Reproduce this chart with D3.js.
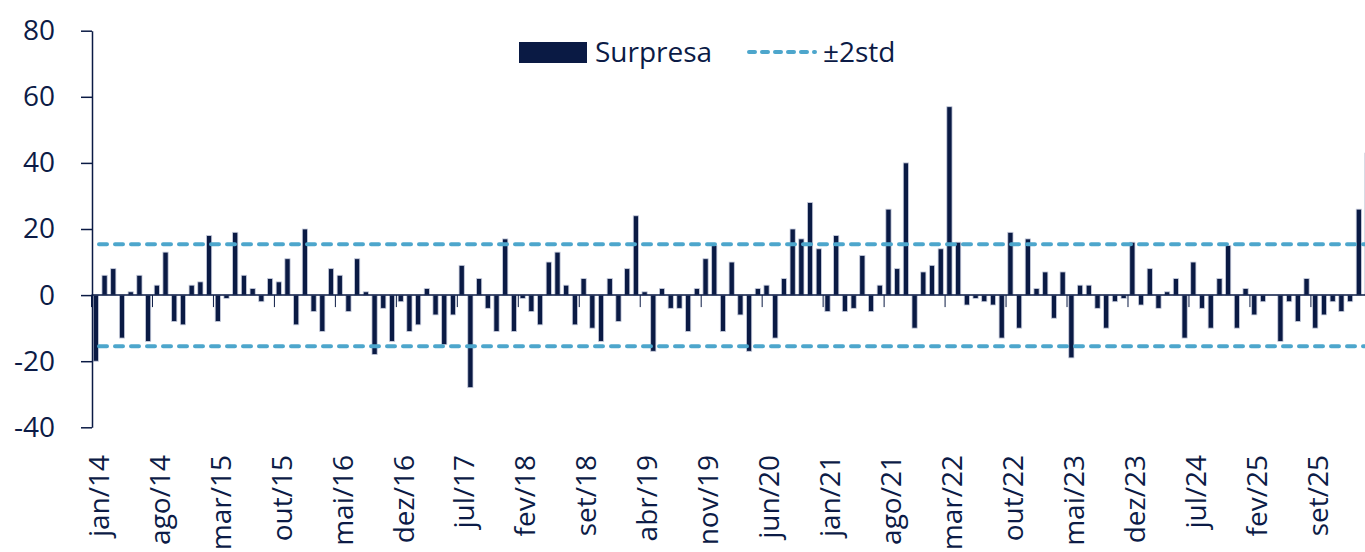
<!DOCTYPE html>
<meta charset="utf-8">
<script src="https://d3js.org/d3.v7.min.js"></script>
<style>
    body { margin: 0; background: #fff; }
    text { font-family: "Open Sans", "Noto Sans", sans-serif; fill: #0c1b46; }
</style>
<body>
<div id="my_dataviz"></div>
<script>
    // month names and years used to build the monthly categories (jan/14 ...)
    var monthNames = ["jan", "fev", "mar", "abr", "mai", "jun", "jul", "ago", "set", "out", "nov", "dez"];
    var firstYear = 2014;

    // surprise values, one per month starting jan/14
    var surpresa = [
        -20, 6, 8, -13, 1, 6, -14, 3, 13, -8, -9, 3,
        4, 18, -8, -1, 19, 6, 2, -2, 5, 4, 11, -9,
        20, -5, -11, 8, 6, -5, 11, 1, -18, -4, -14, -2,
        -11, -9, 2, -6, -15, -6, 9, -28, 5, -4, -11, 17,
        -11, -1, -5, -9, 10, 13, 3, -9, 5, -10, -14, 5,
        -8, 8, 24, 1, -17, 2, -4, -4, -11, 2, 11, 15,
        -11, 10, -6, -17, 2, 3, -13, 5, 20, 17, 28, 14,
        -5, 18, -5, -4, 12, -5, 3, 26, 8, 40, -10, 7,
        9, 14, 57, 16, -3, -1, -2, -3, -13, 19, -10, 17,
        2, 7, -7, 7, -19, 3, 3, -4, -10, -2, -1, 16,
        -3, 8, -4, 1, 5, -13, 10, -4, -10, 5, 15, -10,
        2, -6, -2, 0, -14, -2, -8, 5, -10, -6, -2, -5,
        -2, 26, 43
    ];

    // +/- 2 standard deviation band
    var stdUpper = 15.4;
    var stdLower = -15.5;

    // axis ticks
    var yTicks = [80, 60, 40, 20, 0, -20, -40];
    var xTickLabels = ["jan/14", "ago/14", "mar/15", "out/15", "mai/16", "dez/16", "jul/17",
        "fev/18", "set/18", "abr/19", "nov/19", "jun/20", "jan/21", "ago/21", "mar/22",
        "out/22", "mai/23", "dez/23", "jul/24", "fev/25", "set/25"];

    var categories = surpresa.map(function(v, i) {
        return monthNames[i % 12] + "/" + String(firstYear + Math.floor(i / 12)).slice(2);
    });
    var data = surpresa.map(function(v, i) { return { cat: categories[i], value: v }; });

    var navy = "#0a1a44";
    var blue = "#4da6cc";

    var W = 1365, H = 552;
    var plotLeft = 91.5, plotTop = 30.7, plotBottom = 427.3, step = 8.71;

    var svg = d3.select("#my_dataviz")
        .append("svg")
        .attr("width", W)
        .attr("height", H);

    // x: one band per month
    var x = d3.scaleBand()
        .domain(categories)
        .range([plotLeft, plotLeft + step * categories.length])
        .padding(0);

    var y = d3.scaleLinear()
        .domain([-40, 80])
        .range([plotBottom, plotTop]);

    var barW = x.bandwidth() * 0.6;

    // bars
    svg.append("g")
        .selectAll("rect")
        .data(data)
        .enter().append("rect")
        .attr("x", function(d) { return x(d.cat) + (x.bandwidth() - barW) / 2; })
        .attr("width", barW)
        .attr("y", function(d) { return y(Math.max(0, d.value)); })
        .attr("height", function(d) { return Math.abs(y(d.value) - y(0)); })
        .attr("fill", navy)
        .attr("stroke", "#c9cede")
        .attr("stroke-width", 0.8);

    // zero line (x axis)
    svg.append("line")
        .attr("x1", plotLeft).attr("x2", W)
        .attr("y1", y(0)).attr("y2", y(0))
        .attr("stroke", navy)
        .attr("stroke-width", 1.5);

    // small ticks every 7 months, with labels
    var tickCats = xTickLabels;
    svg.append("g")
        .selectAll("line")
        .data(tickCats)
        .enter().append("line")
        .attr("x1", function(d) { return x(d); })
        .attr("x2", function(d) { return x(d); })
        .attr("y1", y(0))
        .attr("y2", y(0) + 12)
        .attr("stroke", navy)
        .attr("stroke-width", 1);

    svg.append("g")
        .selectAll("text")
        .data(tickCats)
        .enter().append("text")
        .attr("transform", function(d) {
            return "translate(" + (x(d) + x.bandwidth() / 2 + 3) + ",455) rotate(-90)";
        })
        .attr("text-anchor", "end")
        .attr("dy", "0.35em")
        .style("font-size", "28px")
        .text(function(d) { return d; });

    // y axis (plain hyphen for negatives, like the original)
    var yAxis = svg.append("g")
        .attr("transform", "translate(" + 92 + ",0)")
        .call(d3.axisLeft(y)
            .tickValues(yTicks)
            .tickFormat(function(d) { return String(d); })
            .tickSize(11).tickSizeOuter(0).tickPadding(26));
    yAxis.selectAll("path, line").attr("stroke", navy).attr("stroke-width", 1.5);
    yAxis.selectAll("text")
        .style("font-size", "28px")
        .style("font-family", "'Open Sans', sans-serif")
        .attr("fill", navy);

    // +/- 2std lines
    svg.append("g")
        .selectAll("line")
        .data([stdUpper, stdLower])
        .enter().append("line")
        .attr("x1", 99).attr("x2", W + 10)
        .attr("y1", function(d) { return y(d); })
        .attr("y2", function(d) { return y(d); })
        .attr("stroke", blue)
        .attr("stroke-width", 4)
        .attr("stroke-linecap", "round")
        .attr("stroke-dasharray", "8,8");

    // legend
    var legend = svg.append("g");
    legend.append("rect")
        .attr("x", 519).attr("y", 42)
        .attr("width", 68).attr("height", 21)
        .attr("fill", navy);
    legend.append("text")
        .attr("x", 595).attr("y", 52)
        .attr("dy", "0.35em")
        .style("font-size", "28px")
        .text("Surpresa");
    legend.append("line")
        .attr("x1", 749).attr("x2", 815)
        .attr("y1", 52).attr("y2", 52)
        .attr("stroke", blue)
        .attr("stroke-width", 4)
        .attr("stroke-linecap", "round")
        .attr("stroke-dasharray", "6,7");
    legend.append("text")
        .attr("x", 823).attr("y", 52)
        .attr("dy", "0.35em")
        .style("font-size", "28px")
        .text("±2std");
</script>
</body>
